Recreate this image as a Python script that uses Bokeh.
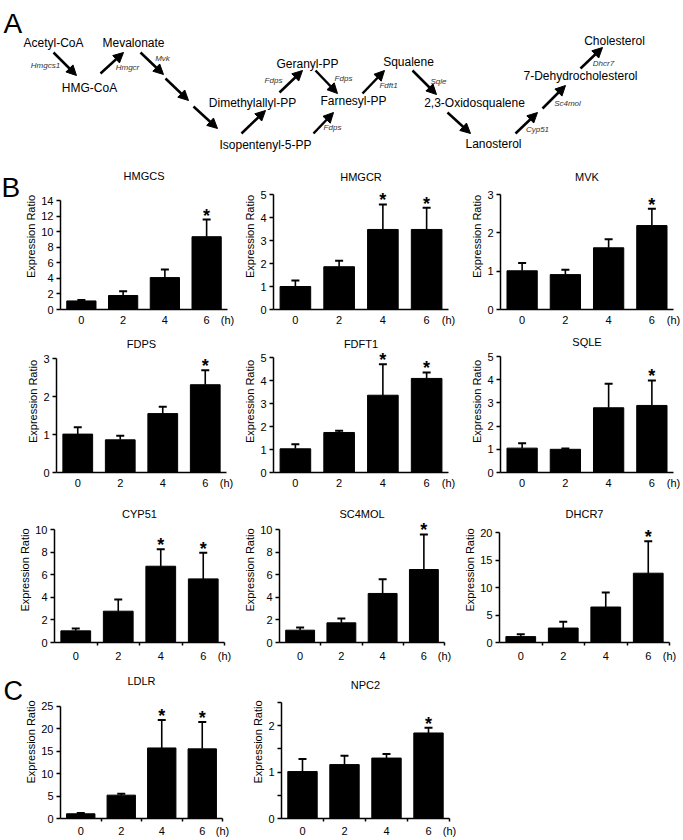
from bokeh.plotting import figure
from bokeh.models import (ColumnDataSource, Range1d, FixedTicker, Whisker, TeeHead,
                          LabelSet, Arrow, NormalHead)
from bokeh.layouts import column, row
from bokeh.embed import file_html
from bokeh.resources import INLINE
from bokeh.core.properties import value

FONT = "Liberation Sans"

# ---------------- data ----------------
times = ["0", "2", "4", "6"]
time_unit = "(h)"
y_label = "Expression Ratio"

HMGCS_mean = [1.10, 1.80, 4.10, 9.35]
HMGCS_err = [0.12, 0.55, 1.05, 2.20]
HMGCS_sig = [False, False, False, True]

HMGCR_mean = [1.00, 1.86, 3.48, 3.48]
HMGCR_err = [0.26, 0.26, 1.09, 0.94]
HMGCR_sig = [False, False, True, True]

MVK_mean = [1.01, 0.91, 1.61, 2.19]
MVK_err = [0.20, 0.13, 0.22, 0.44]
MVK_sig = [False, False, False, True]

FDPS_mean = [1.01, 0.86, 1.55, 2.31]
FDPS_err = [0.18, 0.11, 0.18, 0.38]
FDPS_sig = [False, False, False, True]

FDFT1_mean = [1.03, 1.74, 3.36, 4.09]
FDFT1_err = [0.20, 0.07, 1.35, 0.26]
FDFT1_sig = [False, False, True, True]

SQLE_mean = [1.05, 1.00, 2.79, 2.89]
SQLE_err = [0.21, 0.03, 1.04, 1.08]
SQLE_sig = [False, False, False, True]

CYP51_mean = [1.03, 2.77, 6.75, 5.63]
CYP51_err = [0.21, 1.03, 1.51, 2.31]
CYP51_sig = [False, False, True, True]

SC4MOL_mean = [1.09, 1.74, 4.34, 6.46]
SC4MOL_err = [0.24, 0.38, 1.26, 3.10]
SC4MOL_sig = [False, False, False, True]

DHCR7_mean = [1.07, 2.63, 6.45, 12.60]
DHCR7_err = [0.42, 1.13, 2.62, 5.80]
DHCR7_sig = [False, False, False, True]

LDLR_mean = [1.05, 5.20, 15.70, 15.50]
LDLR_err = [0.15, 0.30, 6.20, 6.00]
LDLR_sig = [False, False, True, True]

NPC2_mean = [1.01, 1.16, 1.30, 1.84]
NPC2_err = [0.27, 0.19, 0.09, 0.11]
NPC2_sig = [False, False, False, True]

# y-axis scales: (axis max, major ticks, minor ticks)
HMGCS_y = (14, [0, 2, 4, 6, 8, 10, 12, 14], [])
HMGCR_y = (5, [0, 1, 2, 3, 4, 5], [])
MVK_y = (3, [0, 1, 2, 3], [])
FDPS_y = (3, [0, 1, 2, 3], [])
FDFT1_y = (5, [0, 1, 2, 3, 4, 5], [])
SQLE_y = (5, [0, 1, 2, 3, 4, 5], [])
CYP51_y = (10, [0, 2, 4, 6, 8, 10], [])
SC4MOL_y = (10, [0, 2, 4, 6, 8, 10], [])
DHCR7_y = (20, [0, 5, 10, 15, 20], [])
LDLR_y = (25, [0, 5, 10, 15, 20, 25], [])
NPC2_y = (2.5, [0, 1, 2], [0.5, 1.5, 2.5])

# pathway (panel A)
metabolites = ["Acetyl-CoA", "HMG-CoA", "Mevalonate", "Isopentenyl-5-PP",
               "Dimethylallyl-PP", "Geranyl-PP", "Farnesyl-PP", "Squalene",
               "2,3-Oxidosqualene", "Lanosterol", "7-Dehydrocholesterol", "Cholesterol"]
enzymes = ["Hmgcs1", "Hmgcr", "Mvk", "Fdps", "Fdps", "Fdps", "Fdft1", "Sqle",
           "Cyp51", "Sc4mol", "Dhcr7"]

# layout of the pathway diagram (pixel-like coordinates)
metab_x = [53, 89, 133, 265, 252, 307, 353, 408, 474, 493, 580, 614]
metab_y = [42, 87, 42, 144, 102, 63, 100, 61, 102, 143, 75, 40]
enz_x = [45, 127, 162, 273, 343, 332, 388, 438, 537, 567, 603]
enz_y = [65, 67, 58, 80, 78, 127, 85, 81, 129, 103, 63]
arr_x0 = [53, 100, 140, 165, 193, 241, 279, 315, 313, 362, 412, 447, 515, 542, 580]
arr_y0 = [52, 73, 52, 78, 106, 133, 92, 70, 133, 93, 70, 112, 133, 108, 68]
arr_x1 = [76, 123, 163, 188, 217, 265, 302, 337, 333, 384, 436, 470, 537, 565, 602]
arr_y1 = [75, 52, 74, 100, 128, 110, 70, 93, 112, 70, 94, 133, 112, 85, 47]


def bare(width, height, xr, yr):
    p = figure(width=width, height=height, x_range=xr, y_range=yr, title=None,
               output_backend="svg", toolbar_location=None, tools="",
               min_border=0, x_axis_location=None, y_axis_location=None)
    p.grid.visible = False
    p.outline_line_color = None
    return p


# ---------------- panel A ----------------
def pathway():
    p = bare(681, 163, Range1d(0, 681), Range1d(163, 0))
    p.text(x=metab_x, y=metab_y, text=metabolites, text_font=value(FONT),
           text_font_size="12px", text_align="center", text_baseline="middle",
           text_color="black")
    p.text(x=enz_x, y=enz_y, text=enzymes, text_font=value(FONT),
           text_font_size="8px", text_font_style="italic", text_align="center",
           text_baseline="middle", text_color="#333333")
    asrc = ColumnDataSource(dict(x0=arr_x0, y0=arr_y0, x1=arr_x1, y1=arr_y1))
    p.add_layout(Arrow(source=asrc, x_start="x0", y_start="y0", x_end="x1", y_end="y1",
                       line_width=2.5, line_color="black",
                       end=NormalHead(size=10, fill_color="black", line_color="black")))
    p.text(x=[3], y=[23], text=["A"], text_font=value(FONT), text_font_size="28px",
           text_align="left", text_baseline="alphabetic", text_color="black")
    return p


def letter(txt, height, x, base, size):
    p = bare(22, height, Range1d(0, 22), Range1d(height, 0))
    p.text(x=[x], y=[base], text=[txt], text_font=value(FONT), text_font_size=size,
           text_align="left", text_baseline="alphabetic", text_color="black")
    return p


# ---------------- bar panels ----------------
def panel(name, mean, err, sig, yinfo, W, Lb, fw, H, Bb, top_px, title_px,
          xticks_between=False, label_standoff=4):
    ymax, yt, ym = yinfo
    fh = H - Bb
    yend = ymax * fh / (fh - top_px)
    p = figure(width=W, height=H, title=None,
               x_range=Range1d(-0.5, 3.5), y_range=Range1d(0, yend),
               output_backend="svg", toolbar_location=None, tools="",
               min_border_left=Lb, min_border_right=W - Lb - fw,
               min_border_top=0, min_border_bottom=Bb)
    p.grid.visible = False
    p.outline_line_color = None

    xs = list(range(len(times)))
    src = ColumnDataSource(dict(
        x=xs, mean=mean, upper=[m + e for m, e in zip(mean, err)],
        star=["*" if s else "" for s in sig]))
    p.vbar(x="x", top="mean", bottom=0, width=0.7, source=src,
           fill_color="black", line_color="black")
    p.add_layout(Whisker(source=src, base="x", lower="mean", upper="upper",
                         line_width=1.6, line_color="black",
                         upper_head=TeeHead(size=8, line_width=2, line_color="black"),
                         lower_head=None))
    p.add_layout(LabelSet(source=src, x="x", y="upper", text="star",
                          text_font=value(FONT), text_font_size="18px",
                          text_font_style="bold", text_align="center",
                          text_baseline="alphabetic", y_offset=-2, text_color="black"))
    # panel title (inside the frame, above the axis)
    p.text(x=[(xs[0] + xs[-1]) / 2], y=[yend * (1 - title_px / fh)], text=[name],
           text_font=value(FONT), text_font_size="11px", text_align="center",
           text_baseline="middle", text_color="black")

    # x axis: labels at the bar centres, "(h)" at the axis end
    xa = p.xaxis[0]
    tick_pos = xs + [3.5]
    xa.ticker = FixedTicker(ticks=tick_pos,
                            minor_ticks=[0.5, 1.5, 2.5, 3.5] if xticks_between else [])
    xa.major_label_overrides = {t: lab for t, lab in zip(tick_pos, times + [time_unit])}
    xa.major_tick_line_color = None
    xa.major_tick_out = 0
    xa.major_tick_in = 0
    xa.minor_tick_out = 3
    xa.minor_tick_in = 0
    xa.minor_tick_line_width = 1.5
    xa.minor_tick_line_color = "black"
    xa.major_label_standoff = label_standoff

    ya = p.yaxis[0]
    ya.bounds = (0, ymax)
    ya.ticker = FixedTicker(ticks=yt, minor_ticks=ym)
    ya.major_tick_out = 4
    ya.major_tick_in = 0
    ya.minor_tick_out = 4
    ya.minor_tick_in = 0
    ya.minor_tick_line_width = 1.5
    ya.minor_tick_line_color = "black"
    ya.major_label_standoff = 3
    ya.axis_label = y_label
    ya.axis_label_standoff = 1

    for ax in (xa, ya):
        ax.axis_line_width = 1.5
        ax.axis_line_color = "black"
        ax.major_tick_line_width = 1.5
        ax.major_label_text_font = FONT
        ax.major_label_text_font_size = "11px"
        ax.major_label_text_color = "black"
        ax.axis_label_text_font = FONT
        ax.axis_label_text_font_size = "11px"
        ax.axis_label_text_font_style = "normal"
        ax.axis_label_text_color = "black"
    return p


R1 = dict(H=167, Bb=21)
R2 = dict(H=167, Bb=25)
R3 = dict(H=168, Bb=23, xticks_between=True)
RC = dict(H=174, Bb=16, xticks_between=True, label_standoff=3)

row1 = row(
    letter("B", 167, 1, 27, "28px"),
    panel("HMGCS", HMGCS_mean, HMGCS_err, HMGCS_sig, HMGCS_y, 214, 35, 170,
          top_px=37, title_px=12, **R1),
    panel("HMGCR", HMGCR_mean, HMGCR_err, HMGCR_sig, HMGCR_y, 224, 37, 175,
          top_px=31, title_px=13, **R1),
    panel("MVK", MVK_mean, MVK_err, MVK_sig, MVK_y, 221, 40, 173,
          top_px=31, title_px=13, **R1),
)
row2 = row(
    panel("FDPS", FDPS_mean, FDPS_err, FDPS_sig, FDPS_y, 236, 56, 170,
          top_px=28, title_px=13, **R2),
    panel("FDFT1", FDFT1_mean, FDFT1_err, FDFT1_sig, FDFT1_y, 224, 37, 175,
          top_px=27, title_px=13, **R2),
    panel("SQLE", SQLE_mean, SQLE_err, SQLE_sig, SQLE_y, 221, 40, 173,
          top_px=26, title_px=11, **R2),
)
row3 = row(
    panel("CYP51", CYP51_mean, CYP51_err, CYP51_sig, CYP51_y, 236, 54, 170,
          top_px=32, title_px=16, **R3),
    panel("SC4MOL", SC4MOL_mean, SC4MOL_err, SC4MOL_sig, SC4MOL_y, 224, 43, 165,
          top_px=32, title_px=16, **R3),
    panel("DHCR7", DHCR7_mean, DHCR7_err, DHCR7_sig, DHCR7_y, 221, 39, 170,
          top_px=35, title_px=16, **R3),
)
rowc = row(
    letter("C", 174, 3, 29, "27px"),
    panel("LDLR", LDLR_mean, LDLR_err, LDLR_sig, LDLR_y, 214, 34, 166,
          top_px=42, title_px=16, **RC),
    panel("NPC2", NPC2_mean, NPC2_err, NPC2_sig, NPC2_y, 224, 45, 168,
          top_px=38, title_px=20, **RC),
)

layout = column(pathway(), row1, row2, row3, rowc)
open("out.html", "w").write(file_html(layout, INLINE))
